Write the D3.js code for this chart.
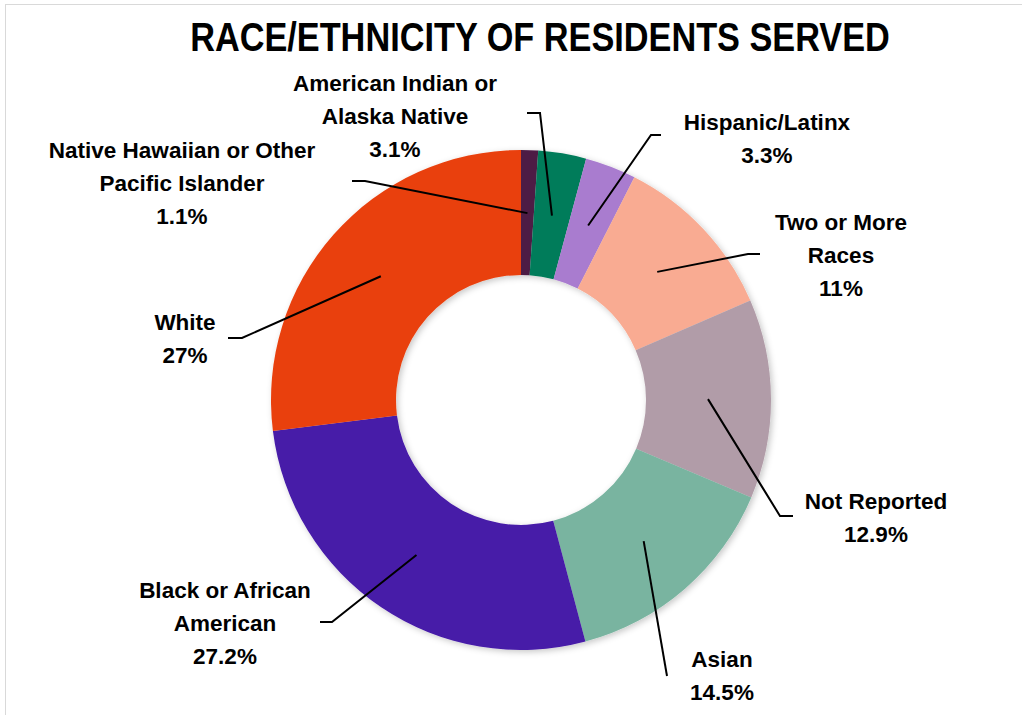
<!DOCTYPE html>
<html>
<head>
<meta charset="utf-8">
<script src="https://cdn.jsdelivr.net/npm/d3@7"></script>
<style>
  html, body { margin: 0; padding: 0; background: #fff; }
  svg { display: block; }
  text { font-family: "Liberation Sans Narrow", "Arial Narrow", "Liberation Sans", sans-serif; font-weight: bold; fill: #000; }
</style>
</head>
<body>
<svg id="chart" width="1022" height="715"></svg>
<script>
// Groups, clockwise from 12 o'clock
const categories = [
  "Native Hawaiian or Other Pacific Islander",
  "American Indian or Alaska Native",
  "Hispanic/Latinx",
  "Two or More Races",
  "Not Reported",
  "Asian",
  "Black or African American",
  "White"
];
const percents = [1.1, 3.1, 3.3, 11, 12.9, 14.5, 27.2, 27];
const percentLabels = ["1.1%", "3.1%", "3.3%", "11%", "12.9%", "14.5%", "27.2%", "27%"];
const nameLines = [
  ["Native Hawaiian or Other", "Pacific Islander"],
  ["American Indian or", "Alaska Native"],
  ["Hispanic/Latinx"],
  ["Two or More", "Races"],
  ["Not Reported"],
  ["Asian"],
  ["Black or African", "American"],
  ["White"]
];
const colors = ["#4d1c45", "#007c5a", "#a97ccf", "#f9ab92", "#b19ca8", "#79b4a0", "#461aa8", "#e9400d"];

// Label placement: text block centre x, first line centre y, and the
// elbow of the leader line (label end point -> bend point)
const labelLayout = [
  { x: 182, y: 150, lead: [[352, 181], [365, 181]] },
  { x: 395, y: 83,  lead: [[527, 113], [540, 113]] },
  { x: 767, y: 122, lead: [[661, 135], [651, 135]] },
  { x: 841, y: 222, lead: [[760, 254], [748, 254]] },
  { x: 876, y: 501, lead: [[793, 516], [780, 516]] },
  { x: 722, y: 659, lead: [[667, 676], [667, 676]] },
  { x: 225, y: 590, lead: [[320, 622], [332, 622]] },
  { x: 185, y: 322, lead: [[228, 338], [242, 338]] }
];

const svg = d3.select("#chart");
const W = 1022, H = 715;
const cx = 521, cy = 400, rOuter = 250, rInner = 125, rLead = 187;
const lineGap = 33;

// chart area frame
svg.append("rect")
  .attr("x", 5.5).attr("y", 4.5)
  .attr("width", W + 20).attr("height", H + 20)
  .attr("fill", "#fff").attr("stroke", "#d9d9d9").attr("stroke-width", 1);

// soft shadow under the ring
const defs = svg.append("defs");
const f = defs.append("filter").attr("id", "ringShadow")
  .attr("x", "-10%").attr("y", "-10%").attr("width", "120%").attr("height", "120%");
f.append("feDropShadow").attr("dx", 2).attr("dy", 2).attr("stdDeviation", 3)
  .attr("flood-color", "#000").attr("flood-opacity", 0.22);

// title, squeezed horizontally into a condensed look
const titleX = 540, titleY = 37, titleWidth = 700;
const title = svg.append("text")
  .attr("x", 0).attr("y", 0)
  .attr("text-anchor", "middle").attr("dominant-baseline", "central")
  .style("font-size", "41px")
  .text("RACE/ETHNICITY OF RESIDENTS SERVED");
const natural = title.node().getComputedTextLength();
title.attr("transform", `translate(${titleX},${titleY}) scale(${titleWidth / natural},1)`);

const rows = categories.map((c, i) => ({ name: c, value: percents[i], pct: percentLabels[i], lines: nameLines[i], color: colors[i], layout: labelLayout[i] }));

const pie = d3.pie().sort(null).value(d => d.value);
const arcs = pie(rows);
const arc = d3.arc().innerRadius(rInner).outerRadius(rOuter);

const g = svg.append("g").attr("transform", `translate(${cx},${cy})`);
g.append("g").attr("filter", "url(#ringShadow)")
  .selectAll("path").data(arcs).join("path")
  .attr("d", arc)
  .attr("fill", d => d.data.color);

// leader lines: from label elbow into the middle of each segment
const leadArc = d3.arc().innerRadius(rLead).outerRadius(rLead);
svg.append("g").selectAll("polyline").data(arcs).join("polyline")
  .attr("points", d => {
    const [px, py] = leadArc.centroid(d);
    const L = d.data.layout.lead;
    return [L[0], L[1], [cx + px, cy + py]].map(p => p.join(",")).join(" ");
  })
  .attr("fill", "none").attr("stroke", "#000").attr("stroke-width", 2);

// data labels
const labels = svg.append("g").selectAll("text").data(rows).join("text")
  .attr("text-anchor", "middle")
  .style("font-size", "22.5px");
labels.each(function(d) {
  const t = d3.select(this);
  const lines = d.lines.concat([d.pct]);
  lines.forEach((s, k) => {
    t.append("tspan")
      .attr("x", d.layout.x)
      .attr("y", d.layout.y + k * lineGap)
      .attr("dominant-baseline", "central")
      .text(s);
  });
});
</script>
</body>
</html>
